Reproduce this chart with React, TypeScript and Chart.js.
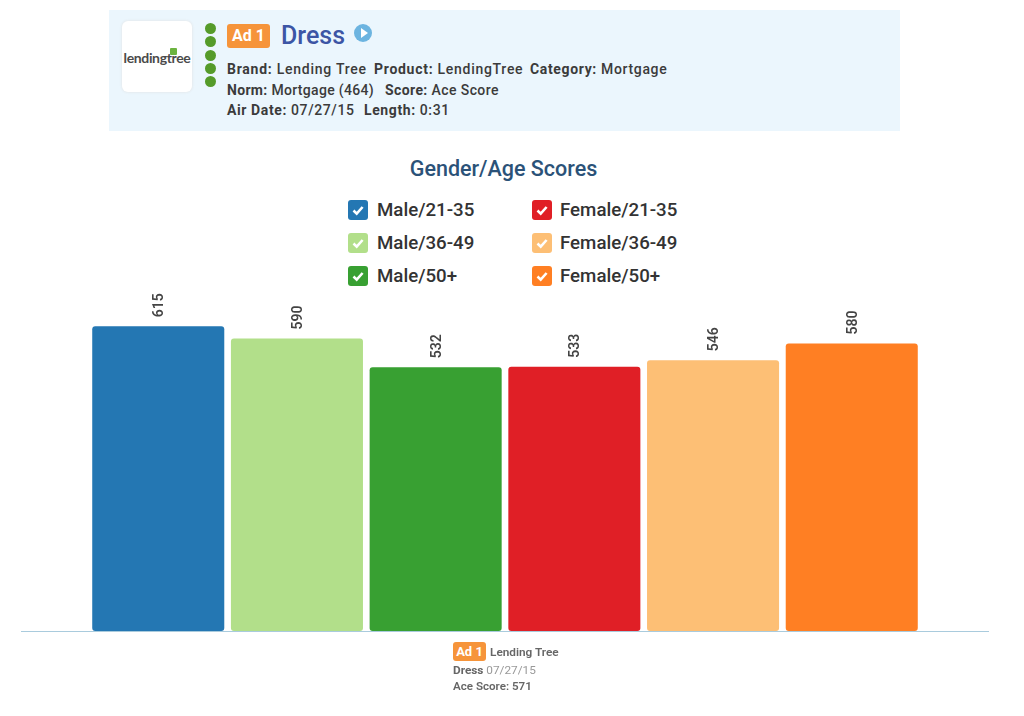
import React, { useEffect, useRef } from "react";
import { Chart, registerables } from "chart.js";

Chart.register(...registerables);

const seriesNames = ["Male/21-35", "Male/36-49", "Male/50+", "Female/21-35", "Female/36-49", "Female/50+"];
const seriesValues = [615, 590, 532, 533, 546, 580];
const seriesColors = ["#2477b3", "#b2df8a", "#38a032", "#e01f26", "#fdbf75", "#ff7f23"];
const categories = ["Ad 1"];
const dotRows = [28, 41, 55, 68, 81];
const legendRows = [209.5, 243, 276];
const F = "Roboto, sans-serif";

const valueLabels = {
  id: "valueLabels",
  afterDatasetsDraw(chart: any) {
    const ctx = chart.ctx;
    chart.data.datasets.forEach((ds: any, i: number) => {
      const el = chart.getDatasetMeta(i).data[0];
      ctx.save();
      ctx.translate(el.x + 1.5, el.y - 9);
      ctx.rotate(-Math.PI / 2);
      ctx.font = `600 14px ${F}`;
      ctx.fillStyle = "#444";
      ctx.textAlign = "left";
      ctx.textBaseline = "middle";
      ctx.fillText(String(ds.data[0]), 0, 0);
      ctx.restore();
    });
  },
};

function abs(left: number, top: number, extra: React.CSSProperties = {}): React.CSSProperties {
  return { position: "absolute", left, top, whiteSpace: "nowrap", fontFamily: F, ...extra };
}

function Line({ top, parts }: { top: number; parts: [number, string, string, number][] }) {
  return (
    <>
      {parts.map(([left, label, value, spacing]) => (
        <div key={label} style={abs(left, top, { fontSize: 14, lineHeight: "18px", fontWeight: 500, color: "#3b3b3b", letterSpacing: spacing })}>
          <b style={{ fontWeight: 700 }}>{label}</b> {value}
        </div>
      ))}
    </>
  );
}

function Check() {
  return (
    <svg width="20" height="20" viewBox="0 0 20 20" style={{ display: "block" }}>
      <path d="M5.5 10.5 L8.7 13.6 L14.6 7" fill="none" stroke="#fff" strokeWidth="2.6" />
    </svg>
  );
}

export default function App() {
  const ref = useRef<HTMLCanvasElement>(null);
  useEffect(() => {
    document.body.style.margin = "0";
    document.body.style.background = "#fff";
    const chart = new Chart(ref.current!, {
      type: "bar",
      data: {
        labels: categories,
        datasets: seriesNames.map((name, i) => ({
          label: name,
          data: [seriesValues[i]],
          backgroundColor: seriesColors[i],
          borderRadius: 3,
          borderSkipped: false,
          categoryPercentage: 0.8606,
          barPercentage: 0.952,
        })),
      },
      plugins: [valueLabels],
      options: {
        animation: false,
        responsive: false,
        maintainAspectRatio: false,
        layout: { padding: { left: 21.5, right: 35.5, top: 284, bottom: 85 } },
        plugins: { legend: { display: false }, tooltip: { enabled: false }, title: { display: false } },
        scales: {
          x: {
            grid: { display: false, drawTicks: false },
            border: { color: "#a9cbdd", width: 1 },
            ticks: { display: false },
          },
          y: { display: false, min: 0, max: 700 },
        },
      },
    });
    return () => chart.destroy();
  }, []);

  return (
    <div style={{ position: "relative", width: 1024, height: 716, overflow: "hidden", background: "#fff" }}>
      <div style={abs(109, 10, { width: 791, height: 121, background: "#ebf6fd" })} />
      <div style={abs(122, 21, { width: 70, height: 71, background: "#fff", borderRadius: 6, boxShadow: "0 0 3px #e0e0e0" })} />
      <div style={abs(123, 50, { width: 68, textAlign: "center", fontSize: 14, fontWeight: 700, lineHeight: "16px", color: "#4a4a4a", letterSpacing: -0.35, fontFamily: "Lato, sans-serif" })}>lendingtree</div>
      <div style={abs(170, 48, { width: 7, height: 7, background: "#6cb33f", borderRadius: 1 })} />
      {dotRows.map((y) => (
        <div key={y} style={abs(205, y - 5.5, { width: 11, height: 11, borderRadius: "50%", background: "#559b2a" })} />
      ))}
      <div style={abs(227, 24, { width: 43, height: 24, background: "#f6943a", borderRadius: 3, color: "#fff", fontSize: 16, fontWeight: 700, lineHeight: "24px", textAlign: "center" })}>Ad 1</div>
      <div style={abs(281, 20, { fontSize: 25, fontWeight: 500, lineHeight: "32px", color: "#3c55a5" })}>Dress</div>
      <div style={abs(354, 24, { width: 18, height: 18, borderRadius: "50%", background: "#6cb4e0" })} />
      <div style={abs(361, 28, { width: 0, height: 0, borderLeft: "7px solid #fff", borderTop: "5px solid transparent", borderBottom: "5px solid transparent" })} />
      <Line top={60} parts={[[227, "Brand:", "Lending Tree", 0.75], [374, "Product:", "LendingTree", 0.72], [530, "Category:", "Mortgage", 0.65]]} />
      <Line top={81} parts={[[227, "Norm:", "Mortgage (464)", 0.32], [385, "Score:", "Ace Score", 0.4]]} />
      <Line top={101} parts={[[227, "Air Date:", "07/27/15", 0.6], [364, "Length:", "0:31", 0.6]]} />

      <div style={abs(0, 155.5, { width: 1007, textAlign: "center", fontSize: 21.5, fontWeight: 500, lineHeight: "26px", color: "#2b5278" })}>Gender/Age Scores</div>

      {seriesNames.map((name, i) => {
        const col = i < 3 ? 348 : 532;
        const y = legendRows[i % 3];
        return (
          <React.Fragment key={name}>
            <div style={abs(col, y - 10, { width: 20, height: 20, borderRadius: 3, background: seriesColors[i] })}><Check /></div>
            <div style={abs(col + (i < 3 ? 29 : 28), y - 12, { fontSize: 18.7, fontWeight: 500, lineHeight: "24px", color: "#333" })}>{name}</div>
          </React.Fragment>
        );
      })}

      <canvas ref={ref} width={1024} height={716} style={{ position: "absolute", left: 0, top: 0, display: "block" }} />

      <div style={abs(453, 642, { width: 33, height: 19, background: "#f6943a", borderRadius: 3, color: "#fff", fontSize: 13, fontWeight: 700, lineHeight: "19px", textAlign: "center" })}>Ad 1</div>
      <div style={abs(490, 645, { fontSize: 11.8, fontWeight: 600, lineHeight: "14px", color: "#666" })}>Lending Tree</div>
      <div style={abs(453, 663, { fontSize: 11.8, lineHeight: "14px", color: "#999" })}><b style={{ fontWeight: 700, color: "#666" }}>Dress</b> 07/27/15</div>
      <div style={abs(453, 679, { fontSize: 11.6, fontWeight: 600, lineHeight: "14px", color: "#666" })}>Ace Score: 571</div>
    </div>
  );
}
